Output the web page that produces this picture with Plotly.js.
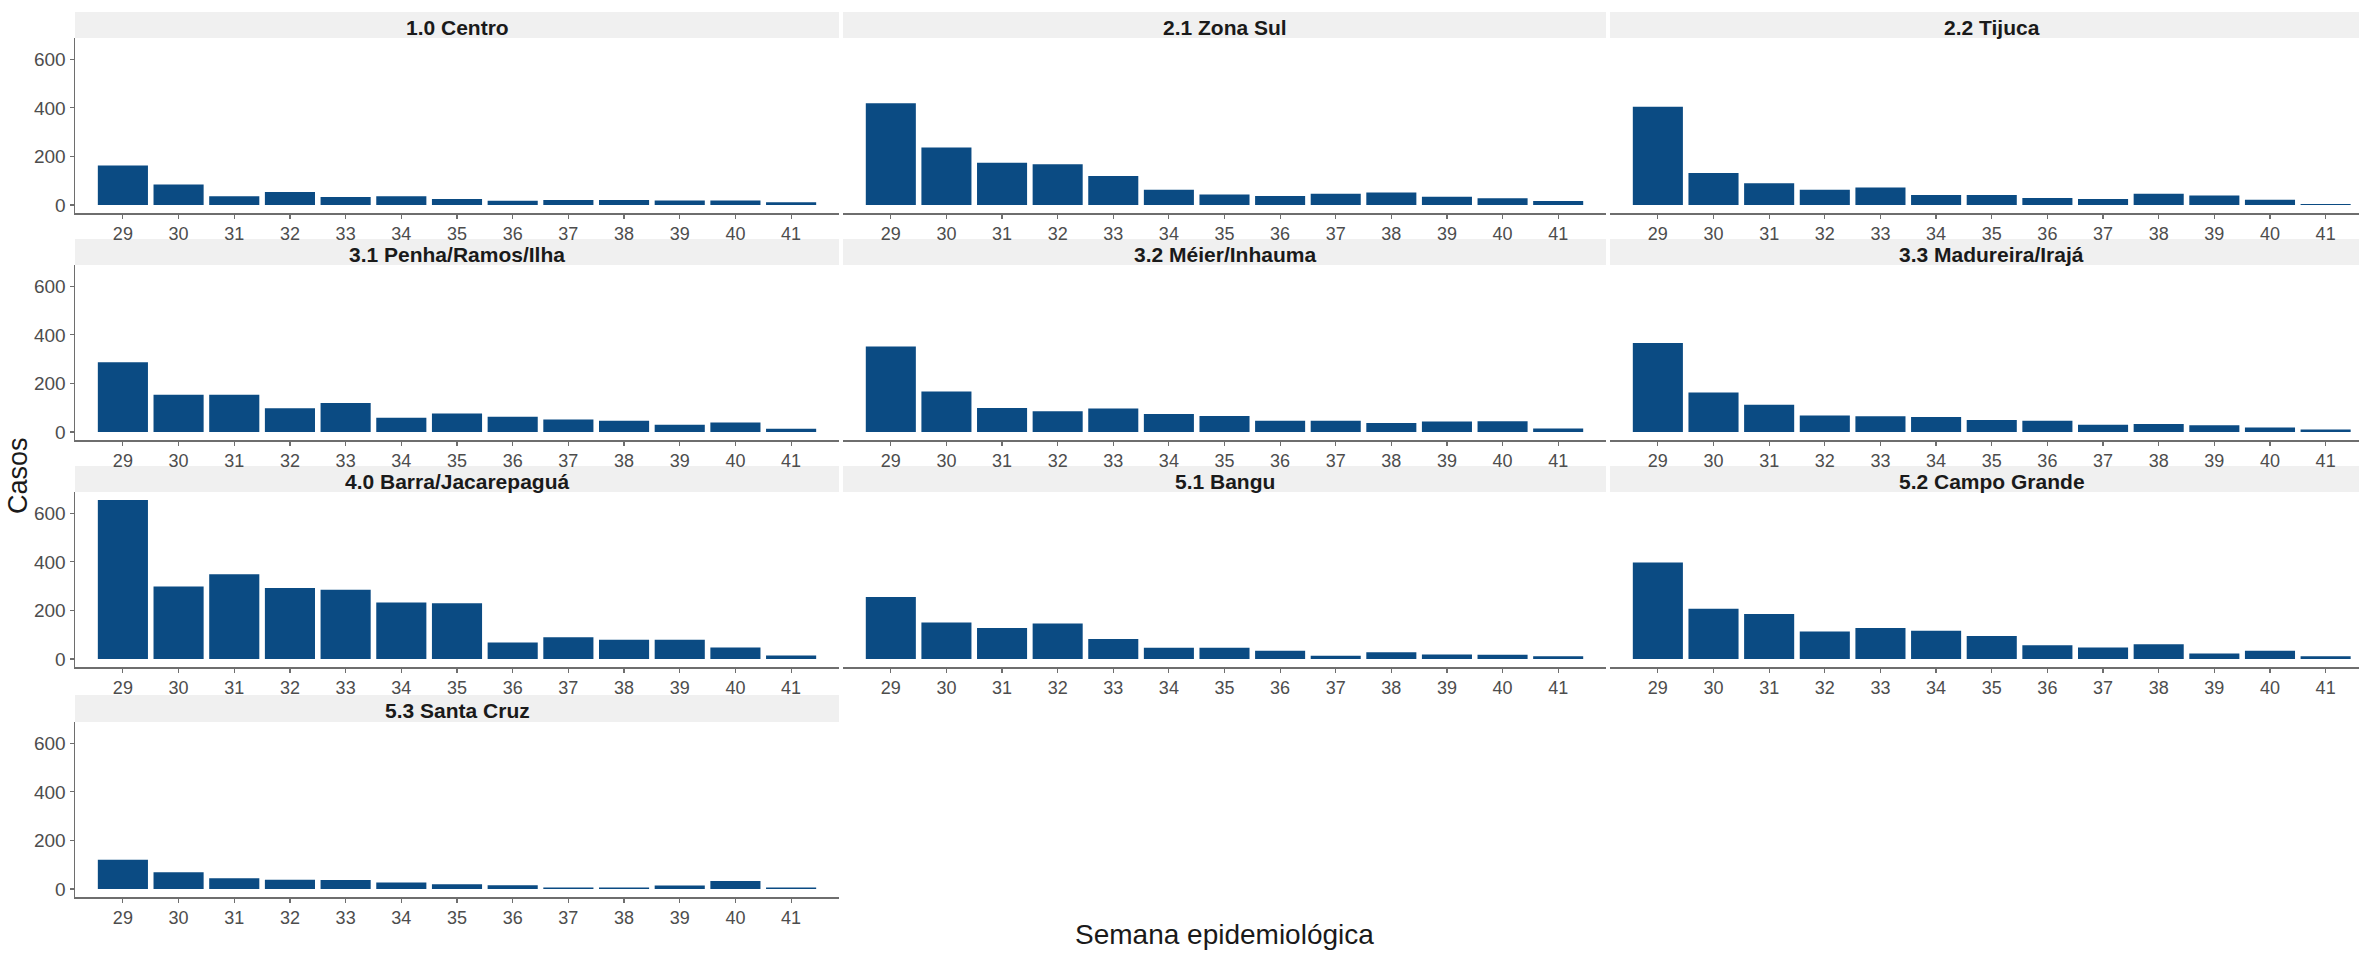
<!DOCTYPE html>
<html>
<head>
<meta charset="utf-8">
<script src="https://cdn.plot.ly/plotly-3.0.1.min.js"></script>
<style>
html,body{margin:0;padding:0;background:#fff;overflow:hidden;}
#chart{width:2359px;height:955px;}
</style>
</head>
<body>
<div id="chart"></div>
<script>
// ---- data ----
const weeks = ['29','30','31','32','33','34','35','36','37','38','39','40','41'];
const regions = ['1.0 Centro','2.1 Zona Sul','2.2 Tijuca','3.1 Penha/Ramos/Ilha','3.2 Méier/Inhauma','3.3 Madureira/Irajá','4.0 Barra/Jacarepaguá','5.1 Bangu','5.2 Campo Grande','5.3 Santa Cruz'];
const centro      = [163, 85, 36, 54, 33, 36, 25, 18, 21, 21, 19, 19, 12];
const zonaSul     = [419, 237, 174, 168, 120, 63, 43, 37, 46, 52, 34, 28, 17];
const tijuca      = [405, 132, 90, 63, 72, 41, 41, 29, 25, 47, 39, 22, 4];
const penha       = [287, 154, 154, 98, 120, 59, 76, 63, 52, 46, 30, 39, 14];
const meier       = [352, 167, 99, 86, 97, 74, 66, 47, 47, 37, 43, 44, 15];
const madureira   = [367, 163, 112, 68, 65, 62, 50, 46, 30, 33, 28, 19, 10];
const barra       = [655, 299, 349, 292, 285, 233, 230, 68, 90, 79, 79, 48, 15];
const bangu       = [255, 150, 128, 146, 83, 46, 47, 34, 14, 28, 19, 18, 12];
const campoGrande = [397, 207, 185, 113, 128, 116, 95, 57, 48, 61, 23, 34, 11];
const santaCruz   = [121, 69, 44, 38, 37, 27, 20, 16, 6, 6, 15, 33, 6];
const yTicks = [0, 200, 400, 600];
const xTitle = 'Semana epidemiológica';
const yTitle = 'Casos';
const series = [centro, zonaSul, tijuca, penha, meier, madureira, barra, bangu, campoGrande, santaCruz];

// ---- layout geometry (pixels) ----
const W = 2359, H = 955;
const cols = [[75, 839], [843, 1606], [1610, 2359]];
const stripTop = [12, 239, 466, 695];
const panelTop = [38, 265, 492, 722];
const panelBottom = [213, 440, 667, 897];
const catPx = (839 - 75) / 13.72;
const px = v => v / W;
const py = v => 1 - v / H;

const FONT = 'Liberation Sans, Arial, Helvetica, sans-serif';
const barColor = '#0b4b83';
const axisColor = '#6e6e6e';

const data = [];
const layout = {
  width: W, height: H,
  margin: {l: 0, r: 0, t: 0, b: 0},
  paper_bgcolor: '#ffffff',
  plot_bgcolor: '#ffffff',
  showlegend: false,
  bargap: 0.1,
  font: {family: FONT, color: '#4d4d4d'},
  shapes: [],
  annotations: []
};

series.forEach((vals, i) => {
  const r = Math.floor(i / 3), c = i % 3;
  const n = i + 1;
  const xa = 'xaxis' + (n === 1 ? '' : n), ya = 'yaxis' + (n === 1 ? '' : n);
  data.push({
    type: 'bar', x: weeks, y: vals,
    xaxis: 'x' + (n === 1 ? '' : n), yaxis: 'y' + (n === 1 ? '' : n),
    marker: {color: barColor, line: {width: 0}},
    hoverinfo: 'x+y'
  });
  let xr1 = 12.86;
  if (c === 2) xr1 = 12.86 - (2373.5 - 2359) / catPx;
  layout[xa] = {
    domain: [px(cols[c][0]), px(cols[c][1])],
    anchor: 'y' + (n === 1 ? '' : n),
    type: 'category',
    categoryorder: 'array', categoryarray: weeks,
    range: [-0.86, xr1],
    showgrid: false, zeroline: false,
    showline: true, linecolor: axisColor, linewidth: 1.5,
    ticks: 'outside', ticklen: 4, tickwidth: 1.2, tickcolor: axisColor,
    tickfont: {size: 18, color: '#4d4d4d', family: FONT},
    fixedrange: true
  };
  layout[ya] = {
    domain: [py(panelBottom[r]), py(panelTop[r])],
    anchor: 'x' + (n === 1 ? '' : n),
    range: [-32.75, 687.75],
    tickvals: yTicks,
    showgrid: false, zeroline: false,
    showline: c === 0, linecolor: axisColor, linewidth: 1.5,
    ticks: c === 0 ? 'outside' : '', ticklen: 4, tickwidth: 1.2, tickcolor: axisColor,
    showticklabels: c === 0,
    tickfont: {size: 19, color: '#4d4d4d', family: FONT},
    fixedrange: true
  };
  // strip
  layout.shapes.push({
    type: 'rect', xref: 'paper', yref: 'paper',
    x0: px(cols[c][0]), x1: px(c === 2 ? 2373.5 : cols[c][1]),
    y0: py(panelTop[r]), y1: py(stripTop[r]),
    fillcolor: '#f0f0f0', line: {width: 0}, layer: 'below'
  });
  const cx = c === 2 ? (1610 + 2373.5) / 2 : (cols[c][0] + cols[c][1]) / 2;
  layout.annotations.push({
    xref: 'paper', yref: 'paper',
    x: px(cx), y: py((stripTop[r] + panelTop[r]) / 2 + 2),
    xanchor: 'center', yanchor: 'middle', borderpad: 0,
    text: '<b>' + regions[i] + '</b>', showarrow: false,
    font: {size: 21, color: '#1a1a1a', family: FONT}
  });
});

layout.annotations.push({
  xref: 'paper', yref: 'paper', x: px(1224), y: py(934),
  xanchor: 'center', yanchor: 'middle', showarrow: false,
  text: xTitle, font: {size: 28, color: '#1a1a1a', family: FONT}
});
layout.annotations.push({
  xref: 'paper', yref: 'paper', x: px(18), y: py(476),
  xanchor: 'center', yanchor: 'middle', showarrow: false, textangle: -90,
  text: yTitle, font: {size: 27, color: '#1a1a1a', family: FONT}
});

Plotly.newPlot('chart', data, layout, {displayModeBar: false, staticPlot: true});
</script>
</body>
</html>
